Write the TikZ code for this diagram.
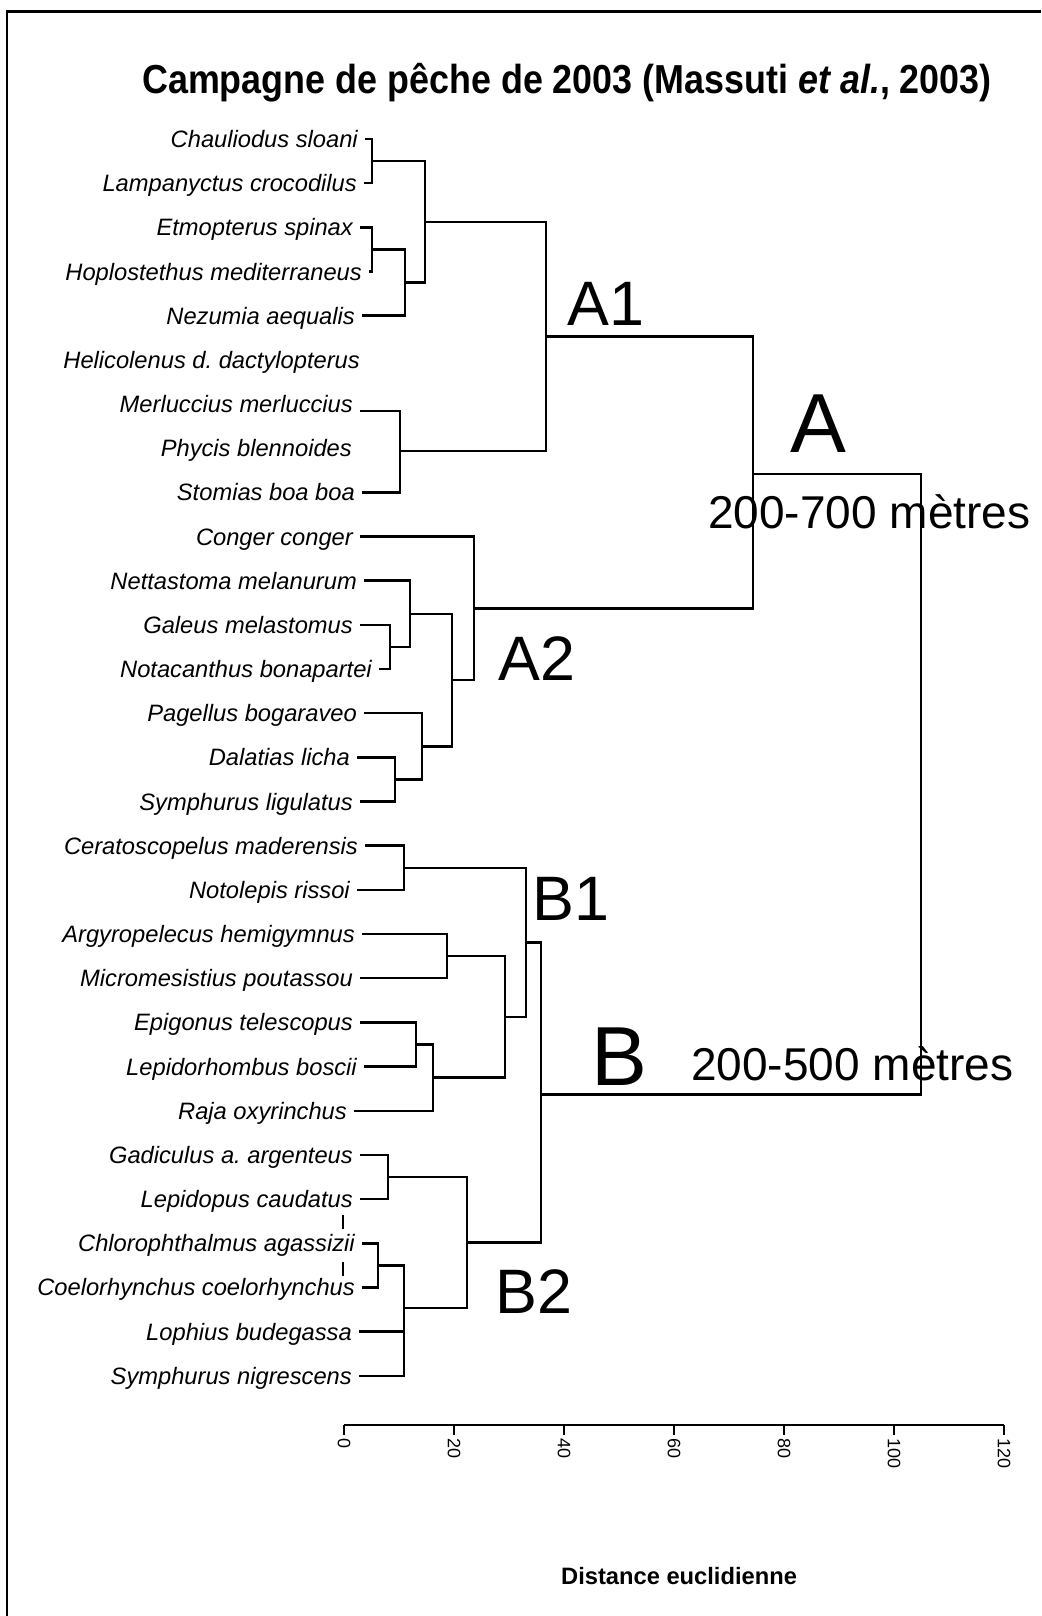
\documentclass[tikz,border=0pt]{standalone}
\usepackage{fontspec}
\setmainfont{Liberation Sans}
\usepackage{graphicx}
\frenchspacing
\begin{document}
\frenchspacing
\begin{tikzpicture}[x=1pt,y=-1pt,
  lab/.style={anchor=east, inner sep=0pt, text height=17pt, text depth=0pt,
              font=\fontsize{23.7}{28}\selectfont\itshape},
  br/.style={line width=2.5pt},
  grp/.style={anchor=base west, inner sep=0pt, font=\fontsize{62.8}{70}\selectfont},
  grpbig/.style={anchor=base west, inner sep=0pt, font=\fontsize{83.8}{90}\selectfont},
  depth/.style={anchor=base west, inner sep=0pt, font=\fontsize{46}{52}\selectfont},
  ticklab/.style={anchor=west, rotate=-90, inner sep=0pt, font=\fontsize{18}{20}\selectfont},
]
\useasboundingbox (0,0) rectangle (1041,1616);
\fill[white] (0,0) rectangle (1041,1616);

% page frame (top and left edges)
\draw[line width=3pt] (6,12) -- (1041,12);
\draw[line width=2.5pt] (7,12) -- (7,1616);

% title
\node[anchor=base west, inner sep=0pt, font=\fontsize{40.5}{48}\selectfont\bfseries] (title) at (142,94)
  {\scalebox{0.886}[1]{Campagne de pêche de 2003 (Massuti \textit{et al.}, 2003)}};

% species labels
\foreach \i/\xr/\t in {
 1/358/Chauliodus sloani,
 2/357/Lampanyctus crocodilus,
 3/353/Etmopterus spinax,
 4/362/Hoplostethus mediterraneus,
 5/355/Nezumia aequalis,
 6/360/Helicolenus d. dactylopterus,
 7/353/Merluccius merluccius,
 8/352/Phycis blennoides,
 9/355/Stomias boa boa,
 10/353/Conger conger,
 11/357/Nettastoma melanurum,
 12/353/Galeus melastomus,
 13/372/Notacanthus bonapartei,
 14/357/Pagellus bogaraveo,
 15/350/Dalatias licha,
 16/353/Symphurus ligulatus,
 17/358/Ceratoscopelus maderensis,
 18/350/Notolepis rissoi,
 19/355/Argyropelecus hemigymnus,
 20/353/Micromesistius poutassou,
 21/353/Epigonus telescopus,
 22/357/Lepidorhombus boscii,
 23/347/Raja oxyrinchus,
 24/353/Gadiculus a. argenteus,
 25/353/Lepidopus caudatus,
 26/355/Chlorophthalmus agassizii,
 27/355/Coelorhynchus coelorhynchus,
 28/352/Lophius budegassa,
 29/352/Symphurus nigrescens}
{
  \node[lab] (n\i) at (\xr,{139+44.17*(\i-1)}) {\frenchspacing\t};
  \coordinate (s\i) at ([xshift=7pt]n\i.east);
}
\coordinate (s7) at ([xshift=7pt,yshift=-7pt]n7.east);

% internal nodes of the tree
\coordinate (c1) at (372,161.1);
\coordinate (c2) at (372,249.4);
\coordinate (c3) at (405,282.5);
\coordinate (c4) at (425,221.8);
\coordinate (c5) at (400,451);
\coordinate (c6) at (546,336.4);
\coordinate (d1) at (390,647);
\coordinate (d2) at (410,613.8);
\coordinate (d3) at (395,779.5);
\coordinate (d4) at (422,746.4);
\coordinate (d5) at (452,680.1);
\coordinate (d6) at (474,608.3);
\coordinate (e)  at (753,474);
\coordinate (f1) at (404,867.8);
\coordinate (f2) at (447,956.2);
\coordinate (f3) at (416,1044.5);
\coordinate (f4) at (433,1077.6);
\coordinate (f5) at (505,1016.9);
\coordinate (f6) at (526,942.4);
\coordinate (g1) at (388,1177);
\coordinate (g2) at (378,1265.4);
\coordinate (g3) at (404,1308);
\coordinate (g4) at (467,1242.5);
\coordinate (h)  at (541,1094.5);
\coordinate (root) at (921,784);

% A1
\draw[br] (s1) -| (c1) |- (s2);
\draw[br] (s3) -| (c2) |- (s4);
\draw[br] (c2) -| (c3) |- (s5);
\draw[br] (c1) -| (c4) |- (c3);
\draw[br] (s7) -| (c5) |- (s9);
\draw[br] (c4) -| (c6) |- (c5);
% A2
\draw[br] (s12) -| (d1) |- (s13);
\draw[br] (s11) -| (d2) |- (d1);
\draw[br] (s15) -| (d3) |- (s16);
\draw[br] (s14) -| (d4) |- (d3);
\draw[br] (d2) -| (d5) |- (d4);
\draw[br] (s10) -| (d6) |- (d5);
% A
\draw[br] (c6) -| (e) |- (d6);
% B1
\draw[br] (s17) -| (f1) |- (s18);
\draw[br] (s19) -| (f2) |- (s20);
\draw[br] (s21) -| (f3) |- (s22);
\draw[br] (f3) -| (f4) |- (s23);
\draw[br] (f2) -| (f5) |- (f4);
\draw[br] (f1) -| (f6) |- (f5);
% B2
\draw[br] (s24) -| (g1) |- (s25);
\draw[br] (s26) -| (g2) |- (s27);
\draw[br] (g2) -| (g3) |- (s29);
\draw[br] (s28) -- (s28 -| g3);
\draw[br] (g1) -| (g4) |- (g3);
% B and root
\draw[br] (f6) -| (h) |- (g4);
\draw[br] (e) -| (root) |- (h);

% small dashed mark between Lepidopus and Coelorhynchus
\draw[line width=2pt] (343,1215) -- (343,1229);
\draw[line width=2pt] (343,1262) -- (343,1276);

% group labels
\node[grp] (lA1) at (567,325) {A1};
\node[grpbig] (lA) at (790,452) {A};
\node[depth] (dA) at (708,528) {200-700 mètres};
\node[grp] (lA2) at (498,680) {A2};
\node[grp] (lB1) at (532,920) {B1};
\node[grpbig] (lB) at (591,1085) {B};
\node[depth] (dB) at (691,1080) {200-500 mètres};
\node[grp] (lB2) at (495,1313) {B2};

% axis
\coordinate (ax0) at (344,1425);
\coordinate (ax1) at (1004,1425);
\draw[line width=2.5pt] (ax0) -- (ax1);
\foreach \v [count=\k from 0] in {0,20,40,60,80,100,120} {
  \coordinate (tk\v) at ({344+110*\k},1425);
  \draw[line width=2.5pt] (tk\v) -- ++(0,10);
  \node[ticklab] (tl\v) at ({344+110*\k},1438) {\v};
}

\node[anchor=base west, inner sep=0pt, font=\fontsize{23.7}{28}\selectfont\bfseries] (xlab) at (561,1584) {Distance euclidienne};
\end{tikzpicture}
\end{document}
